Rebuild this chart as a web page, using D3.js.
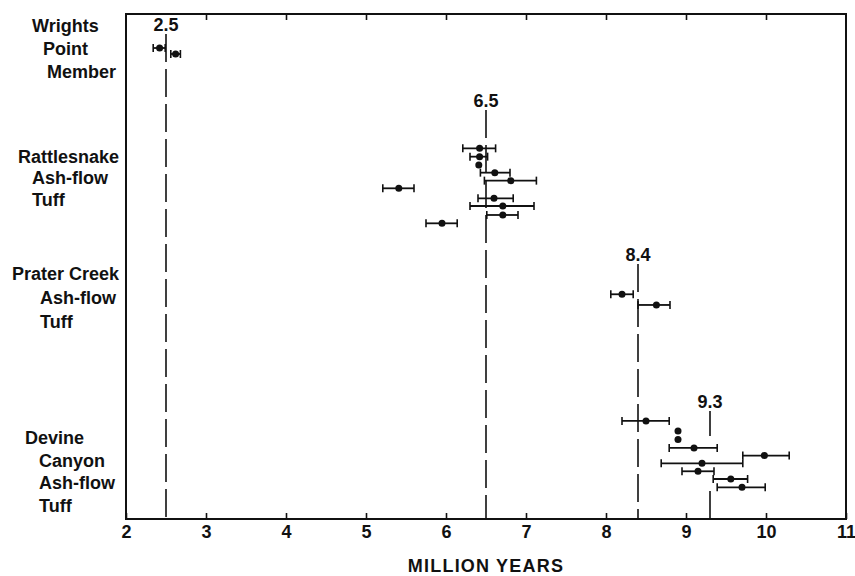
<!DOCTYPE html>
<html>
<head>
<meta charset="utf-8">
<script src="https://cdn.jsdelivr.net/npm/d3@7"></script>
<style>
    body { margin: 0; background: #fff; }
    svg text { font-family: 'Liberation Sans', Arial, Helvetica, sans-serif; font-weight: bold; fill: #111; }
</style>
</head>
<body>
<svg id="chart" width="855" height="576"></svg>
<script>
// Unit names, one line of text per entry.
var unitNames = [
    [ 'Wrights', 'Point', 'Member' ],
    [ 'Rattlesnake', 'Ash-flow', 'Tuff' ],
    [ 'Prater Creek', 'Ash-flow', 'Tuff' ],
    [ 'Devine', 'Canyon', 'Ash-flow', 'Tuff' ]
];

// Accepted age of each unit (million years).
var unitAges = [ 2.5, 6.5, 8.4, 9.3 ];

// Individual K-Ar dates: age, low and high end of the error bar, and row (top = 0).
var wrightsPointDates = [
    { age: 2.42, low: 2.34, high: 2.49, row: 4.04 },
    { age: 2.62, low: 2.56, high: 2.68, row: 4.75 }
];
var rattlesnakeDates = [
    { age: 6.42, low: 6.21, high: 6.62, row: 15.96 },
    { age: 6.42, low: 6.30, high: 6.52, row: 16.95 },
    { age: 6.41, low: 6.41, high: 6.41, row: 17.94 },
    { age: 6.61, low: 6.43, high: 6.80, row: 18.85 },
    { age: 6.81, low: 6.48, high: 7.13, row: 19.80 },
    { age: 5.41, low: 5.21, high: 5.60, row: 20.71 },
    { age: 6.60, low: 6.40, high: 6.84, row: 21.90 },
    { age: 6.71, low: 6.30, high: 7.10, row: 22.81 },
    { age: 6.71, low: 6.51, high: 6.90, row: 23.88 },
    { age: 5.95, low: 5.75, high: 6.14, row: 24.87 }
];
var praterCreekDates = [
    { age: 8.20, low: 8.06, high: 8.34, row: 33.30 },
    { age: 8.63, low: 8.40, high: 8.80, row: 34.57 }
];
var devineCanyonDates = [
    { age: 8.50, low: 8.20, high: 8.79, row: 48.35 },
    { age: 8.90, low: 8.90, high: 8.90, row: 49.54 },
    { age: 8.90, low: 8.90, high: 8.90, row: 50.55 },
    { age: 9.10, low: 8.79, high: 9.39, row: 51.55 },
    { age: 9.98, low: 9.71, high: 10.29, row: 52.46 },
    { age: 9.20, low: 8.69, high: 9.71, row: 53.38 },
    { age: 9.15, low: 8.95, high: 9.35, row: 54.33 },
    { age: 9.56, low: 9.34, high: 9.77, row: 55.25 },
    { age: 9.70, low: 9.39, high: 9.99, row: 56.24 }
];

var xTicks = [ 2, 3, 4, 5, 6, 7, 8, 9, 10, 11 ];
var xTitle = 'MILLION YEARS';

// Layout (pixels / rows), kept apart from the data.
var _margins = { left: 126, right: 9, top: 14, bottom: 57 },
    _width = 855,
    _height = 576,
    _nameLayout = [ // left x of each text line, and baseline row of the first line
        { xs: [ 32, 43, 47 ], firstRow: 2.14, step: 2.73 },
        { xs: [ 18, 32, 32 ], firstRow: 17.70, step: 2.55 },
        { xs: [ 12, 40, 40 ], firstRow: 31.60, step: 2.85 },
        { xs: [ 25, 39, 39, 39 ], firstRow: 51.09, step: 2.70 }
    ],
    _ageLabelRows = [ 2.02, 11.05, 29.35, 46.81 ],
    _ageDashes = [ '28,7', '28,7', '28,7', '25,55,40' ];

var svg = d3.select( '#chart' );

var x = d3.scaleLinear()
    .domain( [ 2, 11 ] )
    .range( [ _margins.left, _width - _margins.right ] );

var y = d3.scaleLinear()
    .domain( [ 0, 60 ] )
    .range( [ _margins.top, _height - _margins.bottom ] );

// Axes: ticks point inwards, top axis has no labels.
var bottomAxis = svg.append( 'g' )
    .attr( 'transform', 'translate(0,' + y( 60 ) + ')' )
    .call( d3.axisBottom( x ).tickValues( xTicks ).tickSizeInner( -6 ).tickSizeOuter( 0 ).tickPadding( 6 ).tickFormat( d3.format( 'd' ) ) );
bottomAxis.select( '.domain' ).remove();
bottomAxis.selectAll( 'line' ).attr( 'stroke', '#111' ).attr( 'stroke-width', 1.6 );
bottomAxis.selectAll( 'text' )
    .attr( 'font-size', 18 )
    .style( 'font-family', null );

var topAxis = svg.append( 'g' )
    .attr( 'transform', 'translate(0,' + y( 0 ) + ')' )
    .call( d3.axisTop( x ).tickValues( xTicks.slice( 1, -1 ) ).tickSizeInner( -6 ).tickSizeOuter( 0 ).tickFormat( '' ) );
topAxis.select( '.domain' ).remove();
topAxis.selectAll( 'line' ).attr( 'stroke', '#111' ).attr( 'stroke-width', 1.6 );

// Frame.
svg.append( 'rect' )
    .attr( 'x', x( 2 ) )
    .attr( 'y', y( 0 ) )
    .attr( 'width', x( 11 ) - x( 2 ) )
    .attr( 'height', y( 60 ) - y( 0 ) )
    .attr( 'fill', 'none' )
    .attr( 'stroke', '#111' )
    .attr( 'stroke-width', 2 );

svg.append( 'text' )
    .attr( 'x', x( 6.5 ) )
    .attr( 'y', 572 )
    .attr( 'text-anchor', 'middle' )
    .attr( 'font-size', 18 )
    .attr( 'letter-spacing', 1.2 )
    .text( xTitle );

// Unit names on the left.
unitNames.forEach( function ( lines, i ) {
    var lay = _nameLayout[i];
    svg.append( 'g' )
        .selectAll( 'text' )
        .data( lines )
        .join( 'text' )
        .attr( 'x', ( d, j ) => lay.xs[j] )
        .attr( 'y', ( d, j ) => y( lay.firstRow + j * lay.step ) )
        .attr( 'font-size', 18 )
        .text( d => d );
} );

// Accepted age lines with their labels.
var ageGroup = svg.append( 'g' );
unitAges.forEach( function ( age, i ) {
    var labelY = y( _ageLabelRows[i] );
    ageGroup.append( 'text' )
        .attr( 'x', x( age ) )
        .attr( 'y', labelY )
        .attr( 'text-anchor', 'middle' )
        .attr( 'font-size', 18 )
        .text( d3.format( '.1f' )( age ) );
    ageGroup.append( 'line' )
        .attr( 'x1', x( age ) )
        .attr( 'x2', x( age ) )
        .attr( 'y1', labelY + 3 )
        .attr( 'y2', y( 60 ) )
        .attr( 'stroke', '#111' )
        .attr( 'stroke-width', 1.6 )
        .attr( 'stroke-dasharray', _ageDashes[i] );
} );

// Dates with error bars.
var allDates = [].concat( wrightsPointDates, rattlesnakeDates, praterCreekDates, devineCanyonDates ),
    capHalf = 4;

var dateGroups = svg.append( 'g' )
    .selectAll( 'g' )
    .data( allDates )
    .join( 'g' )
    .attr( 'transform', d => 'translate(0,' + y( d.row ) + ')' );

dateGroups.filter( d => d.high > d.low )
    .each( function ( d ) {
        var g = d3.select( this );
        g.append( 'line' )
            .attr( 'x1', x( d.low ) ).attr( 'x2', x( d.high ) )
            .attr( 'stroke', '#111' ).attr( 'stroke-width', 1.8 );
        [ d.low, d.high ].forEach( function ( v ) {
            g.append( 'line' )
                .attr( 'x1', x( v ) ).attr( 'x2', x( v ) )
                .attr( 'y1', -capHalf ).attr( 'y2', capHalf )
                .attr( 'stroke', '#111' ).attr( 'stroke-width', 1.6 );
        } );
    } );

dateGroups.append( 'circle' )
    .attr( 'cx', d => x( d.age ) )
    .attr( 'r', 3.5 )
    .attr( 'fill', '#111' );
</script>
</body>
</html>
